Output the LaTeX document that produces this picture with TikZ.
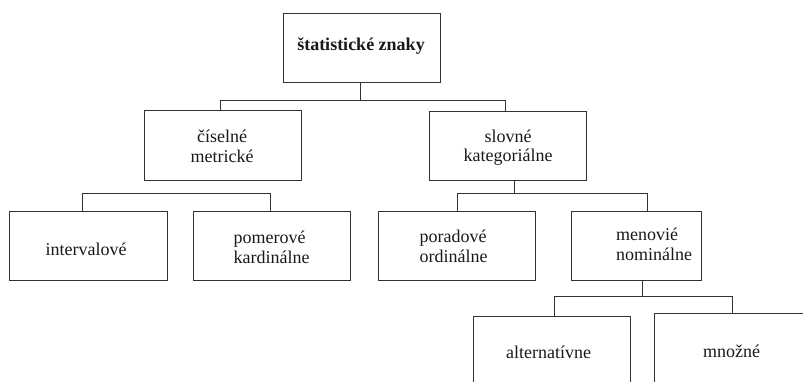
\documentclass[tikz,border=0pt]{standalone}
\usepackage{fontspec}
\setmainfont{Liberation Serif}
\begin{document}
\begin{tikzpicture}[x=1pt,y=-1pt,
  box/.style={draw=black!80,line width=1pt,fill=none,minimum width=#1,minimum height=69pt,inner sep=0pt,outer sep=0pt},
  lbl/.style={font=\fontsize{18}{19.5}\selectfont,text=black!90,inner sep=0pt},
  conn/.style={draw=black!80,line width=1pt}]
\useasboundingbox (0,0) rectangle (803,381);
\clip (0,0) rectangle (803,381);
% boxes
\node[box=157pt] (root) at (361.5,47.5) {};
\node[box=157pt,minimum height=70pt] (cis) at (222.5,145) {};
\node[box=157pt] (slo) at (507.5,145.5) {};
\node[box=158pt] (int) at (88,245.5) {};
\node[box=157pt] (pom) at (271.5,245.5) {};
\node[box=157pt] (por) at (456.5,245.5) {};
\node[box=130pt] (men) at (636,245.5) {};
\node[box=157pt,minimum height=70pt] (alt) at (551.5,351) {};
\node[box=157pt,minimum height=70pt] (mno) at (732.5,348) {};
% labels
\node[lbl,font=\fontsize{18}{19.5}\selectfont\bfseries] (troot) at (361,46) {štatistické znaky};
\node[lbl,align=center] (tcis) at (222,146.5) {číselné\\metrické};
\node[lbl,align=center] (tslo) at (508,147.5) {slovné\\kategoriálne};
\node[lbl] (tint) at (86,249) {intervalové};
\node[lbl,align=left] (tpom) at (271.5,247.5) {pomerové\\kardinálne};
\node[lbl,align=left] (tpor) at (453.5,246.5) {poradové\\ordinálne};
\node[lbl,align=left] (tmen) at (654,244.5) {menovié\\nominálne};
\node[lbl] (talt) at (548.5,352) {alternatívne};
\node[lbl] (tmno) at (731.5,351) {množné};
% junctions
\coordinate (j1) at (360,100);
\coordinate (j2) at (82,193);
\coordinate (j2r) at (270,193);
\coordinate (j3) at (514,193);
\coordinate (j3l) at (457,193);
\coordinate (j3r) at (647,193);
\coordinate (j4) at (642,296);
\coordinate (j4l) at (554,296);
\coordinate (j4r) at (732,296);
\coordinate (j1l) at (220,100);
\coordinate (j1r) at (505,100);
% connectors
\draw[conn] (root.south -| j1) -- (j1);
\draw[conn] (cis.north -| j1l) -- (j1l) -- (j1r) -- (slo.north -| j1r);
\draw[conn] (int.north -| j2) -- (j2) -- (j2r) -- (pom.north -| j2r);
\draw[conn] (slo.south -| j3) -- (j3);
\draw[conn] (por.north -| j3l) -- (j3l) -- (j3r) -- (men.north -| j3r);
\draw[conn] (men.south -| j4) -- (j4);
\draw[conn] (alt.north -| j4l) -- (j4l) -- (j4r) -- (mno.north -| j4r);
\end{tikzpicture}
\end{document}
